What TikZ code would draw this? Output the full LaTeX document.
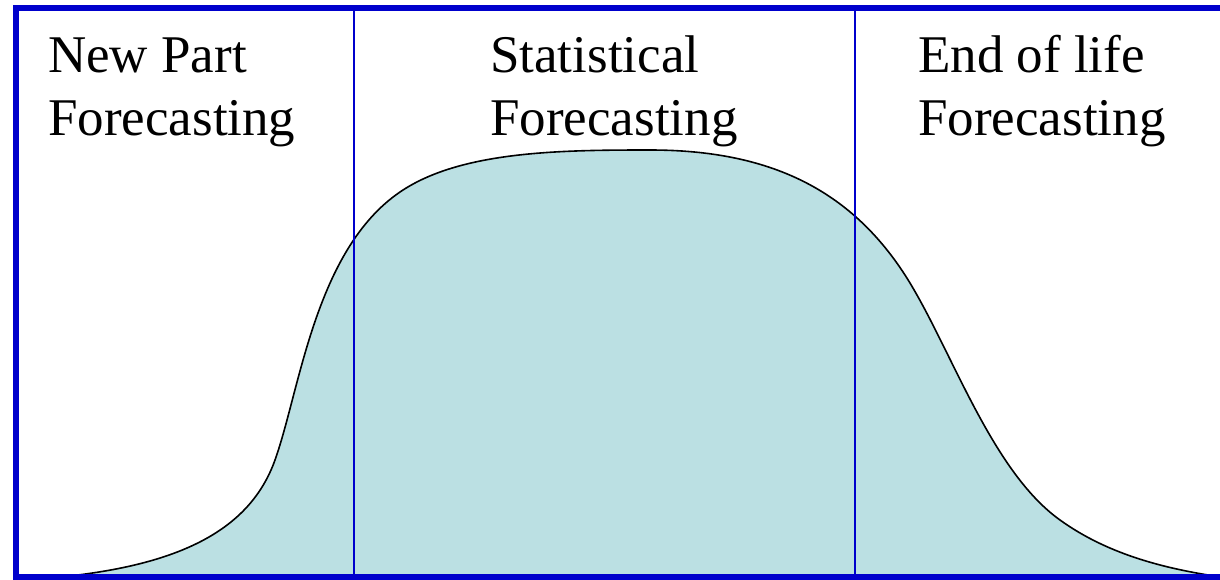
\documentclass[tikz,border=0pt]{standalone}
\usepackage{fontspec}
\setmainfont{Liberation Serif}
\definecolor{fillc}{HTML}{BBE0E3}
\definecolor{bord}{HTML}{0000CC}
\newcommand{\lifecurve}{(60,577) .. controls (180,565) and (250,530) .. (275,460)
  .. controls (300,390) and (315,250) .. (400,192)
  .. controls (460,151) and (560,150) .. (650,150)
  .. controls (770,150) and (850,190) .. (905,275)
  .. controls (950,345) and (990,470) .. (1060,520)
  .. controls (1110,556) and (1170,570) .. (1228,578)}
\begin{document}
\begin{tikzpicture}[x=1pt,y=-1pt,
  lbl/.style={anchor=base west,inner sep=0pt,align=left,font=\fontsize{53}{63}\selectfont},
  divider/.style={draw=bord,line width=2pt},
  frame/.style={draw=bord,line width=6pt}]
\useasboundingbox (0,0) rectangle (1220,579);
\begin{scope}
\clip (0,0) rectangle (1220,579);
\fill[fillc] \lifecurve -- (1228,590) -- (60,590) -- cycle;
\draw[line width=1.6pt] \lifecurve;
\coordinate (d1t) at (354,8); \coordinate (d1b) at (354,578);
\coordinate (d2t) at (855,8); \coordinate (d2b) at (855,578);
\draw[divider] (d1t) -- (d1b);
\draw[divider] (d2t) -- (d2b);
\draw[frame] (15.5,7.5) rectangle (1226,577);
\end{scope}
\node[lbl] (l1) at (48,135) {New Part\\Forecasting};
\node[lbl] (l2) at (490,135) {Statistical\\Forecasting};
\node[lbl] (l3) at (918,135) {End of life\\Forecasting};
\end{tikzpicture}
\end{document}
